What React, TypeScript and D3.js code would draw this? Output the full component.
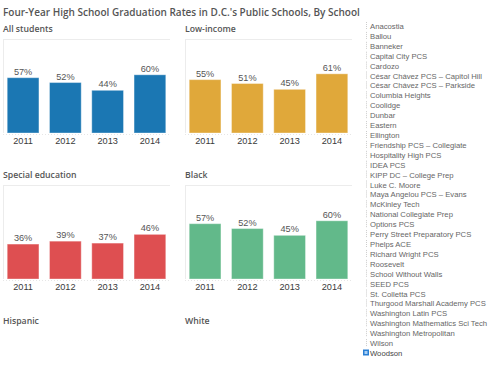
import React, { useEffect, useRef } from 'react'
import * as d3 from 'd3'

const years = ['2011', '2012', '2013', '2014']
const allStudents = [57, 52, 44, 60]
const lowIncome = [55, 51, 45, 61]
const specialEducation = [36, 39, 37, 46]
const black = [57, 52, 45, 60]
const hispanic: number[] = []
const white: number[] = []

const panelTitles = ['All students', 'Low-income', 'Special education', 'Black', 'Hispanic', 'White']
const panelValues = [allStudents, lowIncome, specialEducation, black, hispanic, white]
const panelColors = ['#1b77b3', '#e0a83a', '#de4f51', '#62b98a', '#999', '#999']

const schools = [
	'Anacostia', 'Ballou', 'Banneker', 'Capital City PCS', 'Cardozo',
	'César Chávez PCS – Capitol Hill', 'César Chávez PCS – Parkside', 'Columbia Heights',
	'Coolidge', 'Dunbar', 'Eastern', 'Ellington', 'Friendship PCS – Collegiate',
	'Hospitality High PCS', 'IDEA PCS', 'KIPP DC – College Prep', 'Luke C. Moore',
	'Maya Angelou PCS – Evans', 'McKinley Tech', 'National Collegiate Prep', 'Options PCS',
	'Perry Street Preparatory PCS', 'Phelps ACE', 'Richard Wright PCS', 'Roosevelt',
	'School Without Walls', 'SEED PCS', 'St. Colletta PCS', 'Thurgood Marshall Academy PCS',
	'Washington Latin PCS', 'Washington Mathematics Sci Tech', 'Washington Metropolitan',
	'Wilson', 'Woodson'
]
const selectedSchool = 'Woodson'

const App = () => {
	const ref = useRef<SVGSVGElement>(null)

	const width = 500
	const height = 365
	const panelWidth = 167
	const colX = [3, 185]
	const rowStep = 146
	const titleFont = '"Open Sans", "DejaVu Sans", sans-serif'
	const labelFont = '"Liberation Sans", Arial, sans-serif'

	useEffect(() => {
		if (!ref.current) return
		const svg = d3.select(ref.current)
		svg.selectAll('*').remove()

		svg
			.append('text')
			.attr('x', 3)
			.attr('y', 16)
			.attr('font-family', titleFont)
			.attr('font-size', 10)
			.attr('font-weight', 600)
			.attr('fill', '#555')
			.text("Four-Year High School Graduation Rates in D.C.'s Public Schools, By School")

		panelTitles.forEach((title, i) => {
			const x0 = colX[i % 2]
			const top = 39 + rowStep * Math.floor(i / 2)
			const base = top + 94
			const g = svg.append('g')

			g.append('text')
				.attr('x', x0)
				.attr('y', top - 7)
				.attr('font-family', titleFont)
				.attr('font-size', 8.7)
				.attr('font-weight', 600)
				.attr('fill', '#555')
				.text(title)

			const values = panelValues[i]
			if (!values.length) return

			const xScale = d3
				.scaleBand()
				.domain(years)
				.range([x0, x0 + panelWidth])
				.paddingInner(0.25)
				.paddingOuter(0.1)
			const yScale = d3.scaleLinear().domain([0, 100]).range([base, base - 97])

			// рамка панели
			g.append('line')
				.attr('x1', x0).attr('x2', x0 + panelWidth)
				.attr('y1', top + 0.5).attr('y2', top + 0.5)
				.attr('stroke', '#ececec')
			g.append('line')
				.attr('x1', x0 + 0.5).attr('x2', x0 + 0.5)
				.attr('y1', top).attr('y2', base)
				.attr('stroke', '#ececec')
			g.append('line')
				.attr('x1', x0).attr('x2', x0 + panelWidth)
				.attr('y1', base + 1.5).attr('y2', base + 1.5)
				.attr('stroke', '#e6e6e6')
				.attr('stroke-dasharray', '1,2')

			g.selectAll('rect')
				.data(values)
				.join('rect')
				.attr('x', (_, j) => xScale(years[j])!)
				.attr('y', d => yScale(d))
				.attr('width', xScale.bandwidth())
				.attr('height', d => base - yScale(d))
				.attr('fill', panelColors[i])
				.attr('stroke', 'rgba(255,255,255,0.35)')

			g.selectAll('text.value')
				.data(values)
				.join('text')
				.attr('class', 'value')
				.attr('x', (_, j) => xScale(years[j])! + xScale.bandwidth() / 2)
				.attr('y', d => yScale(d) - 3)
				.attr('text-anchor', 'middle')
				.attr('font-family', labelFont)
				.attr('font-size', 9.2)
				.attr('fill', '#555')
				.text(d => `${d}%`)

			g.selectAll('text.year')
				.data(years)
				.join('text')
				.attr('class', 'year')
				.attr('x', d => xScale(d)! + xScale.bandwidth() / 2)
				.attr('y', base + 11)
				.attr('text-anchor', 'middle')
				.attr('font-family', labelFont)
				.attr('font-size', 9.2)
				.attr('fill', '#3a3a3a')
				.text(d => d)
		})

		// легенда школ
		const legendY = d3
			.scalePoint()
			.domain(schools)
			.range([29, 356])
		const legend = svg
			.append('g')
			.selectAll('g')
			.data(schools)
			.join('g')
			.attr('transform', d => `translate(366,${legendY(d)})`)

		legend
			.filter(d => d !== selectedSchool)
			.append('line')
			.attr('x1', 0.5).attr('x2', 0.5)
			.attr('y1', -7).attr('y2', 1)
			.attr('stroke', '#ccc')
			.attr('stroke-dasharray', '1,1')

		const sel = legend.filter(d => d === selectedSchool)
		sel.append('rect')
			.attr('x', -3).attr('y', -6.5)
			.attr('width', 6).attr('height', 6)
			.attr('fill', '#2a7fd4')
		sel.append('rect')
			.attr('x', -1.5).attr('y', -5)
			.attr('width', 3).attr('height', 3)
			.attr('fill', '#a9d0f5')

		legend
			.append('text')
			.attr('x', 4)
			.attr('font-family', labelFont)
			.attr('font-size', 7.7)
			.attr('fill', d => (d === selectedSchool ? '#444' : '#666'))
			.text(d => d)
	}, [])

	return (
		<svg
			width={width}
			height={height}
			ref={ref}
			style={{ position: 'absolute', left: 0, top: 0, background: '#fff' }}
		></svg>
	)
}

export default App
